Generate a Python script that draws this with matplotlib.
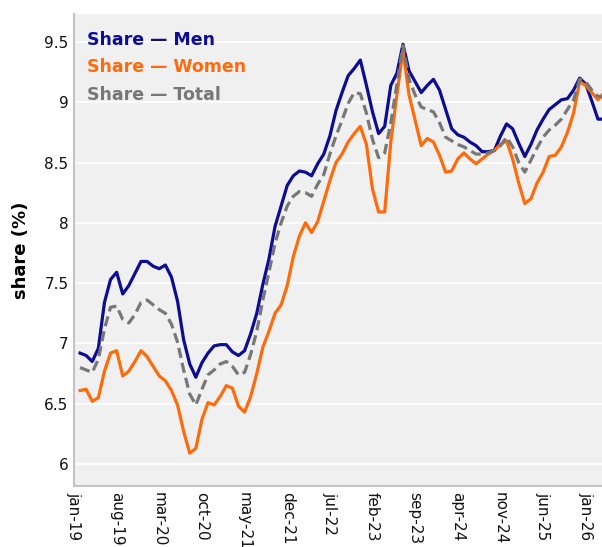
"""
Share of men / women / total, monthly, from feb-19.
"""

import pandas as pd
import matplotlib.pyplot as plt

months = pd.period_range('2019-02', periods=87, freq='M')

men = [6.92, 6.90, 6.85, 6.96, 7.34, 7.53, 7.59, 7.41, 7.48, 7.58,
       7.68, 7.68, 7.64, 7.62, 7.65, 7.55, 7.35, 7.03, 6.83, 6.72,
       6.84, 6.92, 6.98, 6.99, 6.99, 6.93, 6.90, 6.94, 7.08, 7.25,
       7.49, 7.70, 7.97, 8.14, 8.31, 8.39, 8.43, 8.42, 8.39, 8.49,
       8.57, 8.72, 8.93, 9.08, 9.22, 9.28, 9.35, 9.14, 8.92, 8.74,
       8.80, 9.14, 9.24, 9.48, 9.26, 9.17, 9.08, 9.14, 9.19, 9.10,
       8.94, 8.78, 8.73, 8.71, 8.67, 8.64, 8.59, 8.59, 8.60, 8.72,
       8.82, 8.78, 8.66, 8.55, 8.65, 8.77, 8.86, 8.94, 8.98, 9.02,
       9.03, 9.10, 9.20, 9.15, 9.01, 8.86, 8.86]

women = [6.61, 6.62, 6.52, 6.55, 6.77, 6.92, 6.94, 6.73, 6.77, 6.85,
         6.94, 6.89, 6.81, 6.73, 6.69, 6.61, 6.49, 6.27, 6.09, 6.13,
         6.37, 6.51, 6.49, 6.56, 6.65, 6.63, 6.48, 6.43, 6.56, 6.75,
         6.97, 7.10, 7.25, 7.32, 7.48, 7.72, 7.89, 8.00, 7.92, 8.01,
         8.18, 8.35, 8.50, 8.57, 8.67, 8.74, 8.80, 8.65, 8.28, 8.09,
         8.09, 8.67, 9.06, 9.43, 9.06, 8.85, 8.64, 8.70, 8.67, 8.56,
         8.42, 8.43, 8.53, 8.58, 8.53, 8.49, 8.53, 8.57, 8.60, 8.65,
         8.68, 8.53, 8.33, 8.16, 8.20, 8.33, 8.42, 8.55, 8.56, 8.63,
         8.75, 8.91, 9.17, 9.14, 9.08, 9.02, 9.08]

total = [6.80, 6.78, 6.76, 6.87, 7.12, 7.30, 7.31, 7.20, 7.17, 7.24,
         7.34, 7.36, 7.32, 7.28, 7.25, 7.16, 7.01, 6.78, 6.58, 6.49,
         6.62, 6.74, 6.78, 6.83, 6.85, 6.81, 6.74, 6.76, 6.91, 7.10,
         7.36, 7.59, 7.83, 8.00, 8.14, 8.22, 8.26, 8.25, 8.22, 8.32,
         8.40, 8.57, 8.72, 8.85, 8.99, 9.08, 9.07, 8.91, 8.69, 8.54,
         8.58, 8.83, 9.15, 9.47, 9.19, 9.06, 8.96, 8.94, 8.92, 8.83,
         8.71, 8.68, 8.65, 8.63, 8.60, 8.57, 8.57, 8.58, 8.60, 8.64,
         8.71, 8.63, 8.50, 8.42, 8.52, 8.62, 8.71, 8.77, 8.81, 8.86,
         8.94, 9.02, 9.19, 9.17, 9.10, 9.05, 9.04]

tick_labels = ['jan-19', 'aug-19', 'mar-20', 'oct-20', 'may-21', 'dec-21', 'jul-22',
               'feb-23', 'sep-23', 'apr-24', 'nov-24', 'jun-25', 'jan-26']

#month offsets from jan-19
start = pd.Period('2019-01', freq='M')
x = [(m - start).n for m in months]
ticks = [7 * k for k in range(len(tick_labels))]

fig = plt.figure(figsize=(6.02, 5.47), dpi=100)
#axes runs past the right border on purpose (chart is cropped there)
ax = fig.add_axes([0.1229, 0.1115, 0.9007, 0.863])
ax.set_facecolor('#f0f0f0')

ax.plot(x, men, color='#0c0c94', lw=2.3, solid_joinstyle='round')
ax.plot(x, women, color='#ff6a0a', lw=2.3, solid_joinstyle='round')
ax.plot(x, total, color='#777777', lw=2.3, dashes=(3.2, 1.6))

ax.set_xlim(0, 89)
ax.set_ylim(5.818, 9.732)
ax.set_yticks([6, 6.5, 7, 7.5, 8, 8.5, 9, 9.5])
ax.set_yticklabels(['6', '6.5', '7', '7.5', '8', '8.5', '9', '9.5'])
ax.set_xticks(ticks)
ax.set_xticklabels(tick_labels, rotation=270)
ax.tick_params(length=0, labelsize=11, colors='#111111', pad=4)
ax.grid(True, axis='y', color='white', lw=1.1)
ax.set_axisbelow(True)

for side in ['top', 'right']:
  ax.spines[side].set_visible(False)
for side in ['left', 'bottom']:
  ax.spines[side].set_color('#c4c4c4')
  ax.spines[side].set_linewidth(1.5)

ax.set_ylabel('share (%)', fontsize=13, fontweight='bold', labelpad=10)

#legend as coloured text
for k, (txt, col) in enumerate([('Share — Men', '#0c0c94'),
                                ('Share — Women', '#ff6a0a'),
                                ('Share — Total', '#777777')]):
  fig.text(87 / 602, 1 - (40 + 27.5 * k) / 547, txt, color=col, fontsize=12.5,
           fontweight='bold', va='center', ha='left')

fig.savefig('out.png', dpi=100)
